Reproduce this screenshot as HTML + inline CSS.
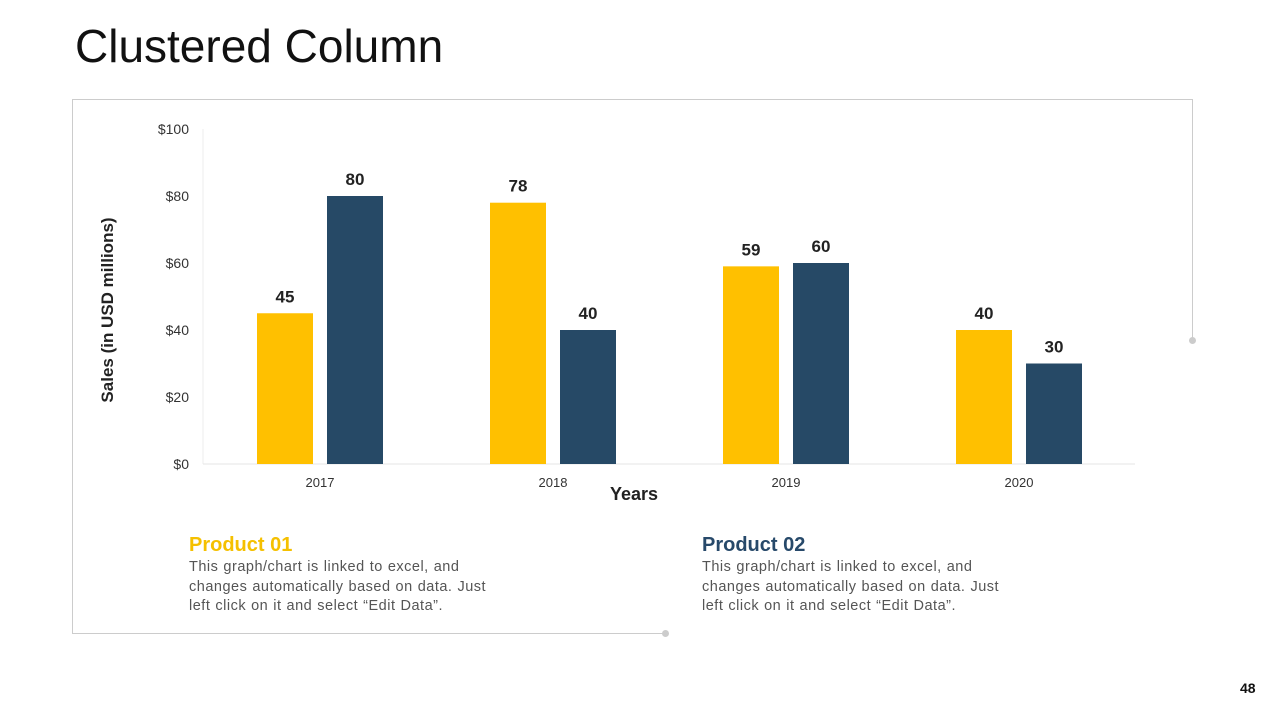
<!DOCTYPE html>
<html><head><meta charset="utf-8"><style>
body{margin:0;width:1280px;height:720px;background:#fff;font-family:"Liberation Sans",sans-serif;position:relative;overflow:hidden}
.abs{position:absolute}
.h{font-weight:bold;font-size:20px}
.p{font-size:14.5px;color:#555;line-height:19.5px;white-space:nowrap;letter-spacing:0.5px;word-spacing:0.5px}
</style></head><body>
<div class="abs" style="left:75px;top:19px;font-size:46px;color:#111">Clustered Column</div>
<div class="abs" style="left:72px;top:99px;width:1121px;height:1px;background:#ccc"></div>
<div class="abs" style="left:72px;top:99px;width:1px;height:535px;background:#ccc"></div>
<div class="abs" style="left:1192px;top:99px;width:1px;height:241px;background:#ccc"></div>
<div class="abs" style="left:72px;top:633px;width:594px;height:1px;background:#ccc"></div>
<div class="abs" style="left:1189px;top:337px;width:7px;height:7px;border-radius:50%;background:#ccc"></div>
<div class="abs" style="left:662px;top:630px;width:7px;height:7px;border-radius:50%;background:#ccc"></div>
<svg class="abs" style="left:0;top:0" width="1280" height="720" id="chart"></svg>
<div class="abs" style="left:189px;top:534px;color:#f5c000" ><span class="h">Product 01</span></div>
<div class="abs p" style="left:189px;top:558px">This graph/chart is linked to excel, and<br>changes automatically based on data. Just<br>left click on it and select “Edit Data”.</div>
<div class="abs" style="left:702px;top:534px;color:#27496a"><span class="h">Product 02</span></div>
<div class="abs p" style="left:702px;top:558px">This graph/chart is linked to excel, and<br>changes automatically based on data. Just<br>left click on it and select “Edit Data”.</div>
<div class="abs" style="left:1240px;top:680px;font-size:14px;font-weight:bold;color:#111">48</div>
<script>
const categories=["2017","2018","2019","2020"];
const product1=[45,78,59,40];
const product2=[80,40,60,30];
const yTicks=[0,20,40,60,80,100];
const NS="http://www.w3.org/2000/svg";
const svg=document.getElementById('chart');
const y=v=>464-v*3.35;
const x=i=>320+i*233;
function mk(t,a,txt){const e=document.createElementNS(NS,t);for(const k in a)e.setAttribute(k,a[k]);if(txt!==undefined)e.textContent=txt;svg.appendChild(e);return e;}
let e=mk('line',{x1:203,y1:129,x2:203,y2:464,stroke:'#eee'});


e=mk('line',{x1:203,y1:464,x2:1135,y2:464,stroke:'#e6e6e6'});


yTicks.forEach(v=>{const t=mk('text',{x:189,y:y(v)+5,'text-anchor':'end','font-size':14,fill:'#333','font-family':'Liberation Sans'},'$'+v);

});
categories.forEach((c,i)=>{
 const t=mk('text',{x:x(i),y:487,'text-anchor':'middle','font-size':13,fill:'#333','font-family':'Liberation Sans'},c);
 
 
 [[product1,'#ffc000',-35],[product2,'#264966',35]].forEach(([s,col,off],k)=>{
  const b=mk('rect',{x:x(i)+off-28,y:y(s[i]),width:56,height:464-y(s[i]),fill:col});
  
  
  const l=mk('text',{x:x(i)+off,y:y(s[i])-11,'text-anchor':'middle','font-size':17,'font-weight':'bold',fill:'#222','font-family':'Liberation Sans'},s[i]);
  
  
 });
});
e=mk('text',{x:634,y:500,'text-anchor':'middle','font-size':18,'font-weight':'bold',fill:'#222','font-family':'Liberation Sans'},'Years');


e=mk('text',{x:0,y:0,transform:'translate(113,310) rotate(-90)','text-anchor':'middle','font-size':17,'font-weight':'bold',fill:'#222','font-family':'Liberation Sans'},'Sales (in USD millions)');


</script>
</body></html>
